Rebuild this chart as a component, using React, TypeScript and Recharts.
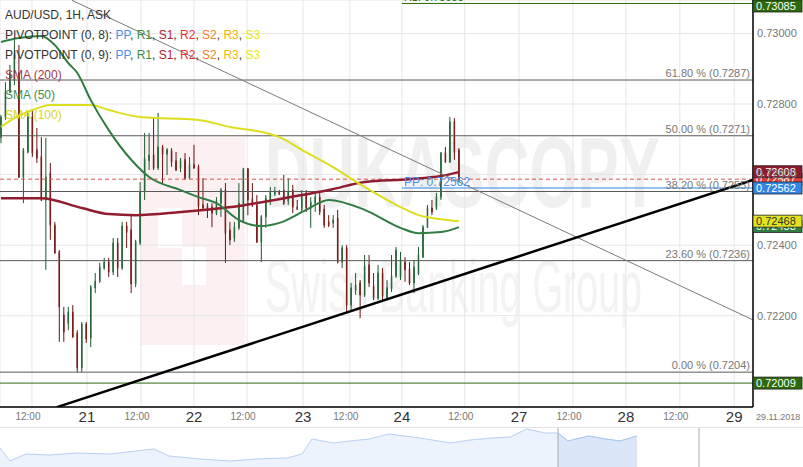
import React from 'react';
import {
  ComposedChart,
  AreaChart,
  Area,
  Bar,
  Line,
  XAxis,
  YAxis,
  CartesianGrid,
  ReferenceLine,
  ReferenceDot,
} from 'recharts';

const FONT = '"Liberation Sans", Arial, sans-serif';

// hourly candles, AUD/USD 1H (slot = candle index)
const OPEN = [
  0.72706, 0.72763, 0.72834, 0.72868, 0.72888, 0.72593, 0.72664, 0.72763, 0.7267, 0.7265,
  0.72528, 0.72604, 0.72457, 0.72381, 0.72202, 0.72179, 0.7221, 0.72151, 0.72052, 0.72176,
  0.72137, 0.72279, 0.72298, 0.72335, 0.72352, 0.72324, 0.72406, 0.72335, 0.72454, 0.72443,
  0.7229, 0.72406, 0.72551, 0.72639, 0.72655, 0.72619, 0.72678, 0.72658, 0.72667, 0.72639,
  0.72619, 0.72642, 0.7259, 0.72628, 0.72622, 0.72514, 0.72511, 0.72508, 0.72491, 0.72519,
  0.72556, 0.72443, 0.7242, 0.72449, 0.72471, 0.72616, 0.72531, 0.72514, 0.72409, 0.7248,
  0.72528, 0.72545, 0.72553, 0.72556, 0.72525, 0.72556, 0.72508, 0.72502, 0.72548, 0.72505,
  0.72519, 0.72536, 0.72502, 0.72466, 0.72463, 0.72477, 0.72352, 0.72392, 0.7223, 0.72273,
  0.72293, 0.72259, 0.72344, 0.72284, 0.7225, 0.72321, 0.7225, 0.72276, 0.72312, 0.7231,
  0.72352, 0.72332, 0.72293, 0.72321, 0.72366, 0.72451, 0.72505, 0.72505, 0.72536, 0.72661,
  0.72636, 0.72749, 0.7267,
];
const HIGH = [
  0.72769, 0.72862, 0.72911, 0.72981, 0.72967, 0.72675, 0.72777, 0.72783, 0.72732, 0.72706,
  0.72704, 0.72633, 0.72466, 0.72386, 0.72225, 0.72225, 0.7223, 0.72159, 0.72182, 0.72182,
  0.72287, 0.72321, 0.7235, 0.72364, 0.72364, 0.7242, 0.7242, 0.72466, 0.72466, 0.72485,
  0.72415, 0.72579, 0.72718, 0.72718, 0.7276, 0.72775, 0.72684, 0.72675, 0.72675, 0.72664,
  0.72647, 0.72661, 0.7265, 0.72684, 0.72628, 0.7259, 0.72519, 0.72519, 0.72536, 0.72562,
  0.72576, 0.72466, 0.72466, 0.72576, 0.72619, 0.72619, 0.72576, 0.72542, 0.72485, 0.72542,
  0.72565, 0.72565, 0.72556, 0.72599, 0.7259, 0.72571, 0.72528, 0.72556, 0.72556, 0.72536,
  0.72548, 0.72551, 0.72514, 0.72485, 0.72485, 0.725, 0.724, 0.724, 0.72293, 0.72321,
  0.72301, 0.72372, 0.72372, 0.72321, 0.72344, 0.72335, 0.72301, 0.72372, 0.72395, 0.72381,
  0.72366, 0.72352, 0.72358, 0.72395, 0.72457, 0.72514, 0.72528, 0.72548, 0.72664, 0.72678,
  0.72763, 0.7276, 0.72675,
];
const LOW = [
  0.72689, 0.72755, 0.72831, 0.72854, 0.7259, 0.72519, 0.7266, 0.7265, 0.72633, 0.72525,
  0.7233, 0.72415, 0.72375, 0.72126, 0.72126, 0.72159, 0.72137, 0.7204, 0.7204, 0.72123,
  0.72111, 0.72264, 0.72293, 0.7233, 0.7231, 0.72315, 0.7231, 0.7233, 0.72392, 0.72264,
  0.72281, 0.724, 0.72528, 0.72613, 0.72613, 0.72613, 0.72576, 0.72599, 0.72622, 0.7261,
  0.72607, 0.72585, 0.72587, 0.72616, 0.72485, 0.725, 0.72477, 0.72451, 0.72485, 0.7248,
  0.7235, 0.724, 0.72409, 0.72443, 0.72466, 0.72485, 0.72508, 0.72406, 0.72352, 0.72449,
  0.72514, 0.72539, 0.72542, 0.72514, 0.72514, 0.72491, 0.725, 0.72494, 0.72494, 0.72449,
  0.72494, 0.72485, 0.72449, 0.72451, 0.72449, 0.72348, 0.72335, 0.72208, 0.72216, 0.72259,
  0.72193, 0.72253, 0.72281, 0.72244, 0.72244, 0.72244, 0.72244, 0.72267, 0.72307, 0.72301,
  0.72296, 0.72287, 0.72264, 0.72315, 0.72364, 0.72449, 0.72485, 0.725, 0.72528, 0.72633,
  0.72633, 0.72642, 0.72579,
];
const CLOSE = [
  0.72763, 0.72834, 0.72888, 0.72939, 0.72593, 0.7267, 0.72763, 0.72661, 0.72647, 0.72528,
  0.72593, 0.72457, 0.72378, 0.72225, 0.72154, 0.7221, 0.7214, 0.72052, 0.72176, 0.72134,
  0.72281, 0.72298, 0.72338, 0.72352, 0.72324, 0.72406, 0.72335, 0.72454, 0.72437, 0.7229,
  0.72409, 0.72551, 0.72644, 0.72655, 0.72619, 0.72678, 0.72658, 0.7267, 0.72636, 0.72613,
  0.72639, 0.7259, 0.72628, 0.72619, 0.72511, 0.72505, 0.725, 0.72491, 0.72525, 0.72556,
  0.72434, 0.72415, 0.72451, 0.72519, 0.72616, 0.72528, 0.72514, 0.72409, 0.7248, 0.72533,
  0.72551, 0.72553, 0.72545, 0.72519, 0.72553, 0.72508, 0.72502, 0.72542, 0.72505, 0.72522,
  0.72536, 0.72494, 0.72457, 0.72457, 0.72471, 0.72352, 0.72392, 0.7223, 0.72279, 0.72287,
  0.72259, 0.72341, 0.72293, 0.7225, 0.72321, 0.72256, 0.72279, 0.72312, 0.72386, 0.72358,
  0.7233, 0.72293, 0.72338, 0.72372, 0.72451, 0.72505, 0.72494, 0.72536, 0.72661, 0.72636,
  0.72749, 0.72664, 0.72585,
];

// moving averages (slot, value)
const SMA200_SLOT = [0, 9, 18, 24, 30, 40, 53, 61, 67, 73, 81, 91, 98, 102];
const SMA200 = [0.72533, 0.72533, 0.72505, 0.72488, 0.72485, 0.72494, 0.72511, 0.72528, 0.72542, 0.72556, 0.72579, 0.72587, 0.72596, 0.72607];
const SMA50_SLOT = [0, 4, 9, 12, 15, 17, 20, 24, 29, 33, 40, 44, 48, 53, 58, 62, 68, 73, 81, 89, 93, 98, 102];
const SMA50 = [0.72976, 0.72987, 0.72993, 0.72967, 0.72916, 0.72888, 0.72811, 0.72726, 0.72642, 0.72593, 0.72556, 0.72536, 0.72519, 0.72471, 0.72454, 0.72463, 0.725, 0.72528, 0.725, 0.72449, 0.72434, 0.72437, 0.72451];
const SMA100_SLOT = [0, 3, 7, 11, 20, 24, 31, 44, 51, 58, 62, 67, 73, 81, 89, 93, 96, 102];
const SMA100 = [0.72735, 0.7276, 0.72783, 0.72797, 0.72797, 0.72783, 0.72763, 0.72755, 0.72735, 0.72721, 0.72706, 0.7267, 0.72628, 0.72565, 0.72508, 0.72485, 0.72477, 0.72468];

// drawn trend lines
const SUPPORT_SLOT = [12.47, 167.5];
const SUPPORT = [0.71941, 0.72585];
const RESIST_SLOT = [15.8, 167.5];
const RESIST = [0.73094, 0.72188];

// fibonacci retracement
const FIB_LEVELS = [0.72868, 0.7271, 0.72552, 0.72356, 0.7204];
const FIB_LABELS = ['61.80 % (0.7287)', '50.00 % (0.7271)', '38.20 % (0.7255)', '23.60 % (0.7236)', '0.00 % (0.7204)'];

const PP = 0.72562;
const R1 = 0.73085;
const S_LOW = 0.72009;
const LAST = 0.72587;
const PIVOT_START = 89.3;

const X_TICKS = [6.9, 19.15, 31.2, 43, 54.8, 67.3, 77.7, 89.3, 103.3, 115.4, 127.4, 139.2, 151.2, 163.3];
const X_TICK_LABELS = ['12:00', '21', '12:00', '22', '12:00', '23', '12:00', '24', '12:00', '27', '12:00', '28', '12:00', '29'];
const Y_TICKS = [0.722, 0.724, 0.726, 0.728, 0.73];

const SLOT_MIN = -0.22;
const SLOT_MAX = 167.5;
const PRICE_MIN = 0.719412;
const PRICE_MAX = 0.730948;

// right-axis value badges, painted in order
const BADGES = [
  { v: LAST, text: '0.72587', bg: '#e2403a', fg: '#fff' },
  { v: 0.72453, text: '0.72453', bg: '#2f7d43', fg: '#fff' },
  { v: R1, text: '0.73085', bg: '#2c6a0c', fg: '#fff' },
  { v: 0.72608, text: '0.72608', bg: '#8c1c2c', fg: '#fff' },
  { v: PP, text: '0.72562', bg: '#3486e6', fg: '#fff' },
  { v: 0.72468, text: '0.72468', bg: '#e2e21e', fg: '#333' },
  { v: S_LOW, text: '0.72009', bg: '#2c6a0c', fg: '#fff' },
];

// navigator strip (x in px, level)
const NAV_X = [0, 10, 26, 50, 77, 110, 154, 169, 200, 230, 256, 287, 302, 312, 333, 350, 369, 389, 420, 451, 470, 492, 510, 527, 545, 558, 568, 589, 605, 620, 637];
const NAV_V = [20, 7, 14, 13, 15, 14, 19, 12, 9, 7, 9, 10, 14, 29, 25, 27, 29, 34, 30, 25, 28, 30, 31, 39, 35, 35, 27, 32, 29, 27, 32];
const NAV_SEL = [558, 637];
const NAV_MARKS = [558, 699];

const candles = OPEN.map((o, i) => ({ slot: i, o, h: HIGH[i], l: LOW[i], c: CLOSE[i] }));
const series = (slots: number[], vals: number[]) => slots.map((s, i) => ({ slot: s, v: vals[i] }));
const navData = NAV_X.map((x, i) => ({
  x,
  v: NAV_V[i],
  sel: x >= NAV_SEL[0] && x <= NAV_SEL[1] ? NAV_V[i] : null,
}));

function Candle(props: any) {
  const { x, y, width, height, payload } = props;
  if (!payload) return null;
  const { o, h, l, c } = payload;
  const up = c >= o;
  const span = h - l || 1e-9;
  const py = (p: number) => y + ((h - p) / span) * height;
  const cx = x + width / 2;
  const top = py(Math.max(o, c));
  const bot = py(Math.min(o, c));
  const dark = up ? '#1d5a30' : '#6a1212';
  return (
    <g>
      <line x1={cx} x2={cx} y1={y} y2={y + height} stroke={dark} strokeWidth={1} />
      <rect
        x={x}
        y={top}
        width={width}
        height={Math.max(1, bot - top)}
        fill={up ? '#3f9b60' : '#c63d2d'}
        stroke={dark}
        strokeWidth={0.7}
      />
    </g>
  );
}

function XTick({ x, y, payload }: any) {
  const label = X_TICK_LABELS[X_TICKS.indexOf(payload.value)] ?? '';
  const isDay = label !== '12:00';
  return (
    <text
      x={isDay ? x : x - 4}
      y={isDay ? y + 15 : y + 13}
      textAnchor="middle"
      fontFamily={FONT}
      fontSize={isDay ? 15 : 10}
      fill={isDay ? '#333' : '#777'}
    >
      {label}
    </text>
  );
}

const badgeShape = (b: typeof BADGES[number]) => (props: any) => {
  const { cx, cy } = props;
  const top = Math.max(0, cy - 6);
  return (
    <g>
      <rect x={cx} y={top} width={49} height={12} fill={b.bg} stroke="#222" strokeWidth={0.8} />
      <text x={cx + 3} y={top + 10} fontFamily={FONT} fontSize={11} fill={b.fg}>
        {b.text}
      </text>
    </g>
  );
};

function Watermark() {
  return (
    <svg width={803} height={407} style={{ position: 'absolute', left: 0, top: 0 }}>
      <rect x={140} y={137} width={105} height={208} fill="#fcf0f2" />
      <rect x={158} y={208} width={24} height={40} fill="#fff" />
      <rect x={182} y={247} width={24} height={38} fill="#fff" />
      <text x={265} y={207} fontFamily={FONT} fontWeight="bold" fontSize={100} fill="#f0f0f0" textLength={395} lengthAdjust="spacingAndGlyphs">
        DUKASCOPY
      </text>
      <text x={265} y={312} fontFamily={FONT} fontSize={75} fill="#f3f3f3" textLength={377} lengthAdjust="spacingAndGlyphs">
        Swiss Banking Group
      </text>
    </svg>
  );
}

const PIVOT_KEYS = [
  ['PP', '#4a8fe8'],
  ['R1', '#3d8b3d'],
  ['S1', '#b0242e'],
  ['R2', '#f03030'],
  ['S2', '#f5821f'],
  ['R3', '#f2b705'],
  ['S3', '#e6e61a'],
];

function Legend() {
  const pivots = (n: number) => (
    <div>
      PIVOTPOINT (0, {n}):{' '}
      {PIVOT_KEYS.map(([k, col], i) => (
        <span key={k}>
          <span style={{ color: col }}>{k}</span>
          {i < PIVOT_KEYS.length - 1 ? ', ' : ''}
        </span>
      ))}
    </div>
  );
  return (
    <div
      style={{
        position: 'absolute',
        left: 5,
        top: 5,
        fontFamily: FONT,
        fontSize: 12,
        lineHeight: '20px',
        color: '#333',
        whiteSpace: 'nowrap',
        pointerEvents: 'none',
      }}
    >
      <div>AUD/USD, 1H, ASK</div>
      {pivots(8)}
      {pivots(9)}
      <div style={{ color: '#a23a48' }}>SMA (200)</div>
      <div style={{ color: '#3f8f56' }}>SMA (50)</div>
      <div style={{ color: '#d6d61e' }}>SMA (100)</div>
    </div>
  );
}

export default function App() {
  return (
    <div style={{ position: 'absolute', left: 0, top: 0, width: 803, height: 467, background: '#fff', overflow: 'hidden' }}>
      <Watermark />
      <div style={{ position: 'absolute', left: 0, top: 0 }}>
        <ComposedChart width={803} height={430} data={candles} margin={{ top: 0, right: 0, bottom: 0, left: 0 }}>
          <CartesianGrid stroke="#e6e6e6" />
          <XAxis
            dataKey="slot"
            type="number"
            domain={[SLOT_MIN, SLOT_MAX]}
            allowDataOverflow
            ticks={X_TICKS}
            tick={<XTick />}
            tickSize={0}
            tickMargin={0}
            height={23}
            axisLine={{ stroke: '#000', strokeWidth: 1.5 }}
            tickLine={false}
            interval={0}
          />
          <YAxis
            orientation="right"
            type="number"
            domain={[PRICE_MIN, PRICE_MAX]}
            allowDataOverflow
            ticks={Y_TICKS}
            width={50}
            tickSize={0}
            tickMargin={4}
            tickLine={false}
            axisLine={{ stroke: '#000', strokeWidth: 1.5 }}
            tickFormatter={(v: number) => v.toFixed(5)}
            tick={{ fontSize: 11, fill: '#777', fontFamily: FONT }}
            interval={0}
          />

          {FIB_LEVELS.map((lv, i) => (
            <ReferenceLine
              key={lv}
              y={lv}
              stroke="#5a5a5a"
              strokeWidth={1}
              label={{ value: FIB_LABELS[i], position: 'insideBottomRight', offset: 3, fill: '#777', fontSize: 11, fontFamily: FONT }}
            />
          ))}
          <ReferenceLine y={S_LOW} stroke="#2c6a0c" strokeWidth={1} />
          <ReferenceLine
            segment={[{ x: PIVOT_START, y: R1 }, { x: SLOT_MAX, y: R1 }]}
            stroke="#2c6a0c"
            strokeWidth={1}
            ifOverflow="visible"
            label={{ value: 'R1: 0.73085', position: 'insideBottomLeft', offset: 2, fill: '#2c6a0c', fontSize: 11, fontFamily: FONT }}
          />
          <ReferenceLine
            segment={[{ x: PIVOT_START, y: PP }, { x: SLOT_MAX, y: PP }]}
            stroke="#3486e6"
            strokeWidth={1}
            label={{ value: 'PP: 0.72562', position: 'insideBottomLeft', offset: 2, fill: '#4a8fe8', fontSize: 12, fontFamily: FONT }}
          />
          <ReferenceLine y={LAST} stroke="#d9534f" strokeDasharray="4 3" strokeWidth={1} />

          <Bar
            dataKey={(d: any) => [d.l, d.h]}
            barSize={3}
            shape={(p: any) => <Candle {...p} />}
            isAnimationActive={false}
          />

          <Line data={series(SMA200_SLOT, SMA200)} dataKey="v" type="monotone" stroke="#8f1d2f" strokeWidth={2.5} dot={false} activeDot={false} isAnimationActive={false} />
          <Line data={series(SMA100_SLOT, SMA100)} dataKey="v" type="monotone" stroke="#dede1f" strokeWidth={2} dot={false} activeDot={false} isAnimationActive={false} />
          <Line data={series(SMA50_SLOT, SMA50)} dataKey="v" type="monotone" stroke="#2f7d43" strokeWidth={2} dot={false} activeDot={false} isAnimationActive={false} />
          <Line data={series(RESIST_SLOT, RESIST)} dataKey="v" type="linear" stroke="#7a7a7a" strokeWidth={1} dot={false} activeDot={false} isAnimationActive={false} />
          <Line data={series(SUPPORT_SLOT, SUPPORT)} dataKey="v" type="linear" stroke="#000" strokeWidth={2.5} dot={false} activeDot={false} isAnimationActive={false} />

          {BADGES.map((b) => (
            <ReferenceDot key={b.text + b.bg} x={SLOT_MAX} y={b.v} ifOverflow="visible" shape={badgeShape(b)} />
          ))}
        </ComposedChart>
      </div>
      <Legend />
      <div style={{ position: 'absolute', left: 756, top: 412, fontFamily: FONT, fontSize: 9, color: '#777' }}>29.11.2018</div>

      <div style={{ position: 'absolute', left: 0, top: 427, borderTop: '1px solid #e2e2e2' }}>
        <AreaChart width={803} height={40} data={navData} margin={{ top: 0, right: 0, bottom: 0, left: 0 }}>
          <XAxis dataKey="x" type="number" domain={[0, 803]} hide />
          <YAxis domain={[0, 40]} hide />
          <Area dataKey="v" type="linear" stroke="#b8d0f2" strokeWidth={1} fill="#edf3fc" fillOpacity={1} isAnimationActive={false} dot={false} activeDot={false} />
          <Area dataKey="sel" type="linear" stroke="#a9c5ee" strokeWidth={1} fill="#dbe7f9" fillOpacity={1} isAnimationActive={false} dot={false} activeDot={false} connectNulls={false} />
          {NAV_MARKS.map((m) => (
            <ReferenceLine key={m} x={m} stroke="#aaa" />
          ))}
        </AreaChart>
      </div>
    </div>
  );
}
